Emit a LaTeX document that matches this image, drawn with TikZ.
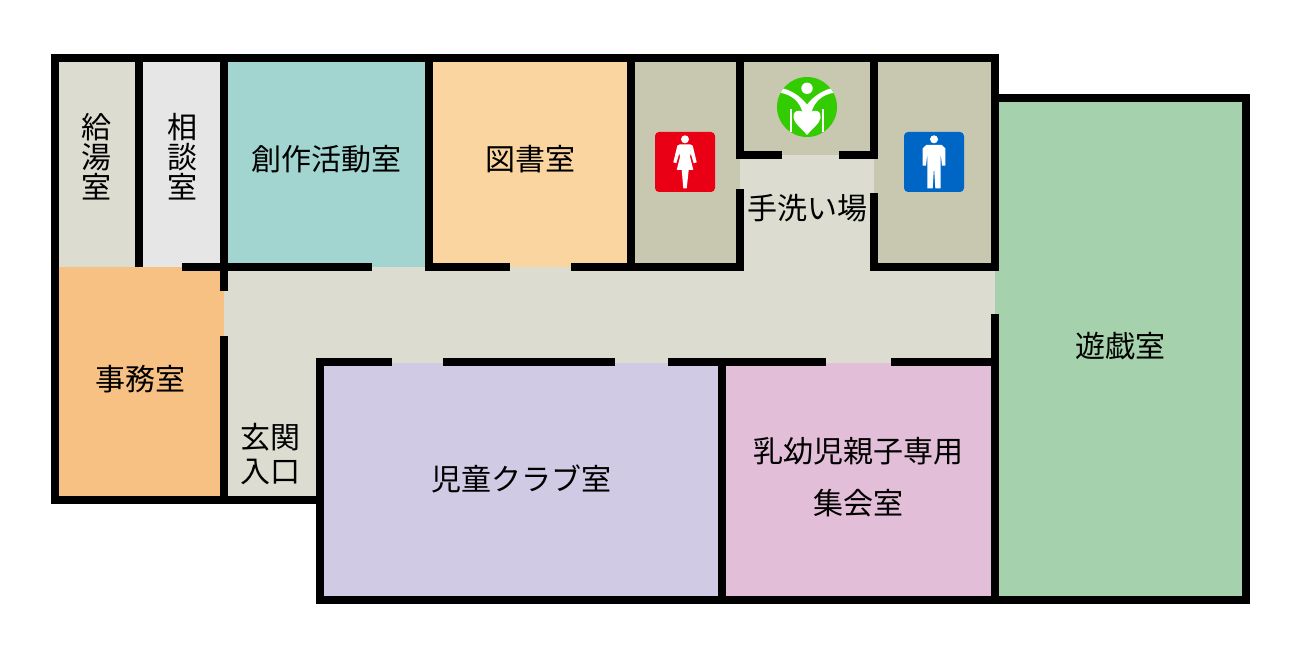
\documentclass[tikz,border=0pt]{standalone}
\usepackage{fontspec}
\setmainfont{Noto Sans CJK JP}
\definecolor{hallcol}{HTML}{DCDDD0}
\definecolor{wccol}{HTML}{C8C7B0}
\definecolor{soudancol}{HTML}{E6E6E6}
\definecolor{sousakucol}{HTML}{A2D5D0}
\definecolor{toshocol}{HTML}{FAD5A0}
\definecolor{jimucol}{HTML}{F7C184}
\definecolor{jidoucol}{HTML}{D0CAE5}
\definecolor{nyuujicol}{HTML}{E3BED8}
\definecolor{yuugicol}{HTML}{A5D2AC}
\definecolor{womencol}{HTML}{EA0014}
\definecolor{mencol}{HTML}{0066C6}
\definecolor{logocol}{HTML}{33CC00}
\begin{document}
\begin{tikzpicture}[x=1pt,y=-1pt,
        wall/.style={line width=8pt,line cap=rect,black},
        room label/.style={inner sep=0pt,align=center,font=\fontsize{30}{30}\selectfont},
        sign/.style={rounded corners=4pt}]
        \useasboundingbox (0,0) rectangle (1300,660);

        % rooms
        \fill[hallcol] (59,62) rectangle (139,267);
        \fill[soudancol] (139,62) rectangle (224,267);
        \fill[sousakucol] (224,62) rectangle (429,267);
        \fill[toshocol] (429,62) rectangle (631,267);
        \fill[wccol] (631,62) rectangle (995,267);
        \fill[hallcol] (740,155) rectangle (874,270);
        \fill[hallcol] (224,267) rectangle (995,362.5);
        \fill[hallcol] (224,362) rectangle (320,499);
        \fill[jimucol] (59,267) rectangle (224,499);
        \fill[jidoucol] (320,362.5) rectangle (722,600);
        \fill[nyuujicol] (722,362.5) rectangle (995,600);
        \fill[yuugicol] (995,98) rectangle (1246,600);

        % walls
        \draw[wall] (320,499.7) -- (55,499.7) -- (55,58) -- (995,58) -- (995,266.7);
        \draw[wall] (995,98) -- (1246,98) -- (1246,600) -- (320,600) -- (320,362.3) -- (388,362.3);
        \draw[wall] (138.7,58) -- (138.7,263);
        \draw[wall] (224,58) -- (224,287);
        \draw[wall] (224,340) -- (224,499);
        \draw[wall] (186,266.7) -- (368,266.7);
        \draw[wall] (429,58) -- (429,266.7) -- (506,266.7);
        \draw[wall] (575,266.7) -- (740,266.7) -- (740,193);
        \draw[wall] (631,58) -- (631,266.7);
        \draw[wall] (740,58) -- (740,155) -- (778,155);
        \draw[wall] (843,155) -- (873.5,155) -- (873.5,58);
        \draw[wall] (873.5,197) -- (873.5,266.7) -- (995,266.7);
        \draw[wall] (447,362.3) -- (611,362.3);
        \draw[wall] (672,362.3) -- (822,362.3);
        \draw[wall] (895,362.3) -- (995,362.3);
        \draw[wall] (995,318) -- (995,600);
        \draw[wall] (722,362.3) -- (722,600);

        % labels
        \node[room label] (kyutou) at (96.5,157) {給\\湯\\室};
        \node[room label] (soudan) at (182,157) {相\\談\\室};
        \node[room label] (sousaku) at (326,159) {創作活動室};
        \node[room label] (tosho) at (530,159) {図書室};
        \node[room label] (tearai) at (807,208) {手洗い場};
        \node[room label] (jimu) at (140,379) {事務室};
        \node[room label,font=\fontsize{30}{34}\selectfont] (genkan) at (270,454) {玄関\\入口};
        \node[room label] (jidou) at (521,479) {児童クラブ室};
        \node[room label] (nyuuyouji) at (858,451) {乳幼児親子専用};
        \node[room label] (shuukai) at (858,503) {集会室};
        \node[room label] (yuugi) at (1120,346) {遊戯室};

        % women
        \begin{scope}[shift={(685,162)}]
                \fill[womencol,sign] (-30,-30) rectangle (30,30);
                \fill[white] (0,-22.7) circle (4);
                \fill[white] (-5,-17.7) -- (5,-17.7) -- (7.7,-16.3) -- (11.7,0.3) -- (8.7,1.3) -- (5.7,-8.7)
                        -- (5,-5.3) -- (8.3,8) -- (3.7,8) -- (1.7,26.3) -- (-1.7,26.3) -- (-3.3,8) -- (-8.3,8)
                        -- (-5,-5.3) -- (-5.7,-8.7) -- (-8.7,1.3) -- (-11.7,0.3) -- (-7.7,-16.3) -- cycle;
        \end{scope}

        % men
        \begin{scope}[shift={(934,162)}]
                \fill[mencol,sign] (-30,-30) rectangle (30,30);
                \fill[white] (0,-22.7) circle (4);
                \fill[white] (-7.7,-17) -- (7.7,-17) -- (11.3,-13.7) -- (11.3,3.7) -- (8,3.7) -- (6.7,-8.7)
                        -- (6.7,26.3) -- (1.3,26.3) -- (0,4.7) -- (-1.3,26.3) -- (-6.7,26.3) -- (-6.7,-8.7)
                        -- (-8,3.7) -- (-11.3,3.7) -- (-11.3,-13.7) -- cycle;
        \end{scope}

        % accessible toilet
        \begin{scope}[shift={(807,107)}]
                \fill[logocol] (0,0) circle (30);
                \fill[white] (0,-18.7) circle (5.7);
                \begin{scope}
                        \clip (0,0) circle (30);
                        \fill[white] (-24.3,-18.7) .. controls (-14,-16) and (-6,-10) .. (0,-2.5)
                                .. controls (6,-10) and (14,-16) .. (24.3,-18.7) -- (27,-14.3)
                                .. controls (15,-12) and (8,-6) .. (4.5,5) -- (4.5,8) -- (-4.5,8) -- (-4.5,5)
                                .. controls (-8,-6) and (-15,-12) .. (-27,-14.3) -- cycle;
                \end{scope}
                \fill[white] (0,8.5) .. controls (-4,2.5) and (-14.5,1) .. (-13.5,11)
                        .. controls (-13,16) and (-5,22) .. (0,28)
                        .. controls (5,22) and (13,16) .. (13.5,11)
                        .. controls (14.5,1) and (4,2.5) .. (0,8.5) -- cycle;
                \fill[white] (-17,2.3) rectangle (-15.3,24.7);
                \fill[white] (15.3,2.3) rectangle (17,24.7);
        \end{scope}
\end{tikzpicture}
\end{document}
